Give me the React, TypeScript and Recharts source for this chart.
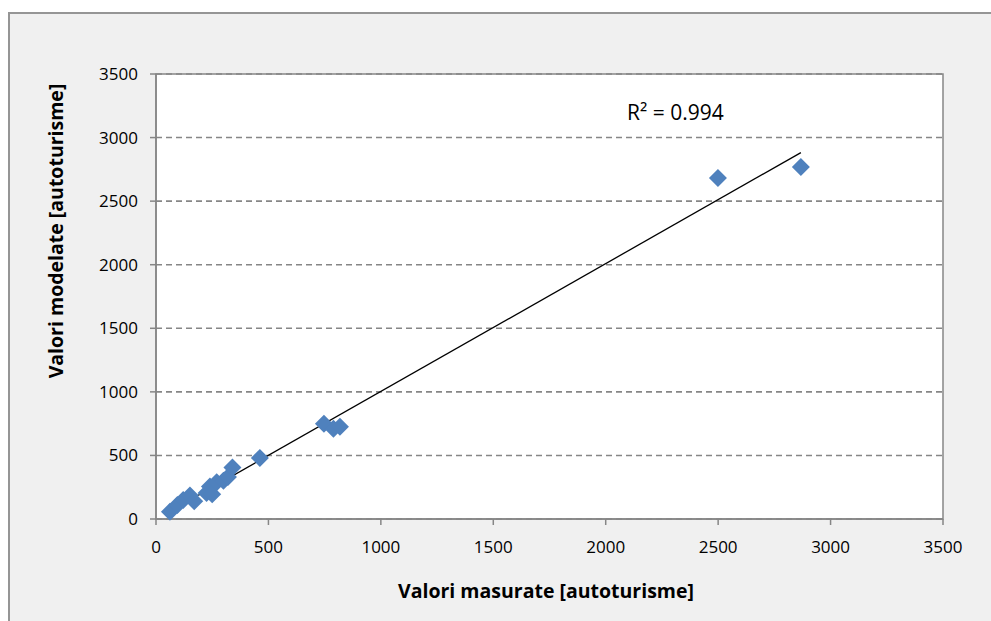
import React from 'react';
import {
  ScatterChart,
  Scatter,
  XAxis,
  YAxis,
  CartesianGrid,
  ReferenceArea,
  ReferenceLine,
} from 'recharts';

const measured = [62, 95, 121, 151, 170, 225, 240, 250, 270, 300, 320, 340, 462, 747, 789, 818, 2499, 2868];
const modelled = [57, 110, 150, 185, 140, 205, 255, 195, 290, 300, 330, 405, 480, 750, 710, 726, 2683, 2769];
const axisTicks = [0, 500, 1000, 1500, 2000, 2500, 3000, 3500];
const rSquaredLabel = 'R² = 0.994';

const FONT = '"Open Sans", "Noto Sans", sans-serif';
const BLUE = '#4F81BD';
const GRAY = '#868686';

const points = measured.map((x, i) => ({ x, y: modelled[i] }));

// least squares trendline, spanning min..max of the measured values
const fitLine = () => {
  const n = measured.length;
  const mx = measured.reduce((a, b) => a + b, 0) / n;
  const my = modelled.reduce((a, b) => a + b, 0) / n;
  let sxy = 0;
  let sxx = 0;
  measured.forEach((x, i) => {
    sxy += (x - mx) * (modelled[i] - my);
    sxx += (x - mx) * (x - mx);
  });
  const slope = sxy / sxx;
  const icpt = my - slope * mx;
  const x0 = Math.min(...measured);
  const x1 = Math.max(...measured);
  return [
    { x: x0, y: icpt + slope * x0 },
    { x: x1, y: icpt + slope * x1 },
  ];
};

const Diamond = (props: any) => {
  const { cx, cy } = props;
  if (cx == null || cy == null) return <g />;
  const r = 9;
  return (
    <polygon
      points={`${cx},${cy - r} ${cx + r},${cy} ${cx},${cy + r} ${cx - r},${cy}`}
      fill={BLUE}
    />
  );
};

const App: React.FC = () => {
  const trend = fitLine();
  const tickStyle = { fill: '#000', fontSize: 17, fontFamily: FONT };

  return (
    <div
      style={{
        position: 'fixed',
        left: 0,
        top: 0,
        width: 991,
        height: 621,
        overflow: 'hidden',
        background: '#fff',
      }}
    >
      <div
        style={{
          position: 'absolute',
          left: 8,
          top: 12,
          width: 1000,
          height: 700,
          border: '2px solid #959595',
          background: '#f0f0f0',
        }}
      />
      <ScatterChart
        width={991}
        height={621}
        margin={{ top: 74, right: 48, bottom: 72, left: 76 }}
        style={{ position: 'absolute', left: 0, top: 0 }}
      >
        <CartesianGrid
          vertical={false}
          fill="#fff"
          stroke={GRAY}
          strokeWidth={1.6}
          strokeDasharray="6 4"
        />
        <XAxis
          type="number"
          dataKey="x"
          domain={[0, 3500]}
          ticks={axisTicks}
          height={30}
          tickSize={6}
          tickMargin={16}
          tick={tickStyle}
          axisLine={{ stroke: GRAY, strokeWidth: 1.5 }}
          tickLine={{ stroke: GRAY, strokeWidth: 1.5 }}
        />
        <YAxis
          type="number"
          dataKey="y"
          domain={[0, 3500]}
          ticks={axisTicks}
          width={80}
          tickSize={6}
          tickMargin={12}
          tick={tickStyle}
          axisLine={{ stroke: GRAY, strokeWidth: 1.5 }}
          tickLine={{ stroke: GRAY, strokeWidth: 1.5 }}
        />
        <ReferenceArea
          x1={0}
          x2={3500}
          y1={0}
          y2={3500}
          fill="none"
          fillOpacity={0}
          stroke={GRAY}
          strokeWidth={1.5}
        />
        <Scatter data={points} shape={<Diamond />} isAnimationActive={false} />
        <ReferenceLine
          segment={trend}
          stroke="#000"
          strokeWidth={1.3}
          ifOverflow="visible"
        />
      </ScatterChart>
      <div
        style={{
          position: 'absolute',
          left: 627,
          top: 102,
          fontFamily: FONT,
          fontSize: 21,
          lineHeight: 1,
          whiteSpace: 'nowrap',
          color: '#000',
        }}
      >
        {rSquaredLabel}
      </div>
      <div
        style={{
          position: 'absolute',
          left: 546,
          top: 581,
          transform: 'translateX(-50%)',
          fontFamily: FONT,
          fontWeight: 'bold',
          fontSize: 19.5,
          lineHeight: 1,
          whiteSpace: 'nowrap',
          color: '#000',
        }}
      >
        Valori masurate [autoturisme]
      </div>
      <div
        style={{
          position: 'absolute',
          left: 56,
          top: 231,
          transform: 'translate(-50%, -50%) rotate(-90deg)',
          fontFamily: FONT,
          fontWeight: 'bold',
          fontSize: 19.5,
          lineHeight: 1,
          whiteSpace: 'nowrap',
          color: '#000',
        }}
      >
        Valori modelate [autoturisme]
      </div>
    </div>
  );
};

export default App;
